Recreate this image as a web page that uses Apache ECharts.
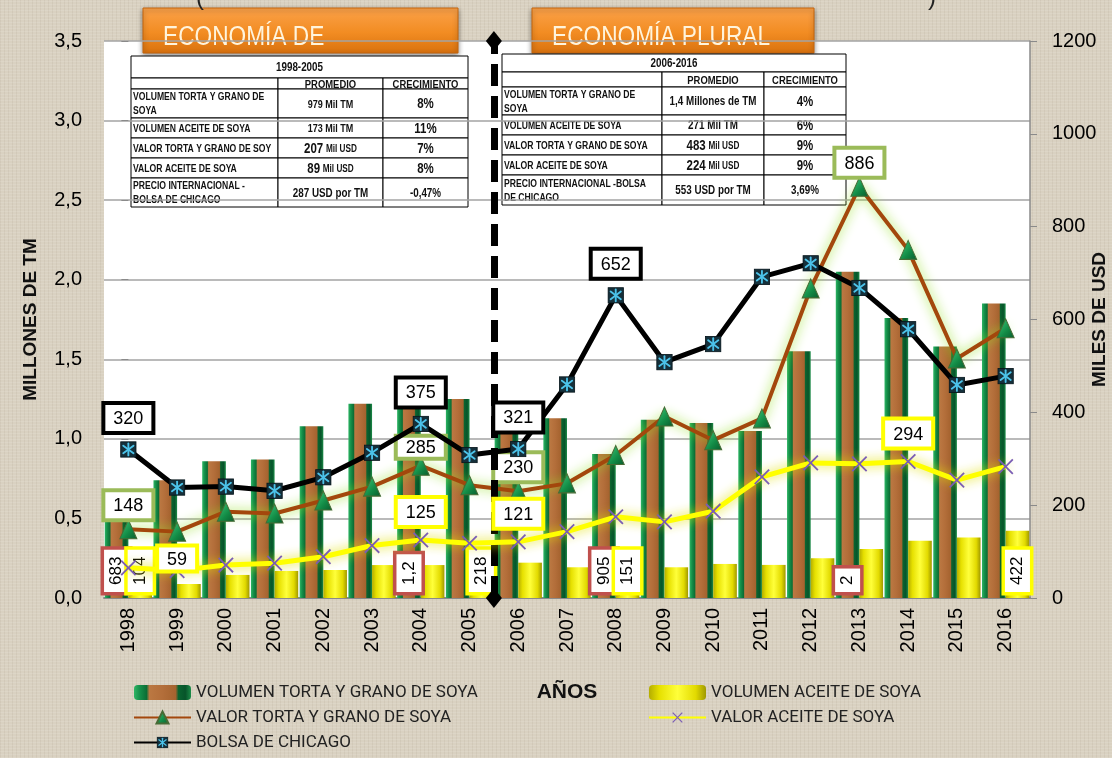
<!DOCTYPE html>
<html>
<head>
<meta charset="utf-8">
<script src="https://cdn.jsdelivr.net/npm/echarts/dist/echarts.min.js"></script>
<style>
  html, body { margin: 0; padding: 0; }
  body {
    background-color: #d9d1c1;
    background-image:
      repeating-linear-gradient(0deg, rgba(255,255,255,0.10) 0 1px, transparent 1px 3px),
      repeating-linear-gradient(90deg, rgba(90,70,40,0.06) 0 1px, transparent 1px 4px);
  }
  #chart { width: 1112px; height: 758px; }
</style>
</head>
<body>
<div id="chart"></div>
<script>
// datos por año
const years = ['1998', '1999', '2000', '2001', '2002', '2003', '2004', '2005', '2006', '2007',
  '2008', '2009', '2010', '2011', '2012', '2013', '2014', '2015', '2016']

// millones de TM (eje izquierdo)
const volTorta = [0.683, 0.74, 0.86, 0.87, 1.08, 1.22, 1.23, 1.25, 1.15, 1.13,
  0.905, 1.12, 1.10, 1.05, 1.55, 2.05, 1.76, 1.58, 1.85]
const volAceite = [0.104, 0.088, 0.145, 0.17, 0.176, 0.207, 0.207, 0.218, 0.222, 0.193,
  0.151, 0.193, 0.214, 0.208, 0.25, 0.308, 0.36, 0.38, 0.422]

// miles de USD (eje derecho)
const valorTorta = [148, 143, 186, 182, 210, 240, 285, 243, 230, 247,
  308, 391, 340, 387, 667, 886, 750, 516, 581]
const valorAceite = [65, 59, 71, 75, 89, 113, 125, 118, 121, 143,
  175, 164, 187, 261, 291, 289, 294, 254, 283]
const bolsa = [320, 238, 240, 231, 260, 313, 375, 308, 321, 460,
  652, 508, 547, 692, 721, 668, 579, 459, 478]

// etiquetas visibles
const volTortaLabels = ['683', '', '', '', '', '', '1,2', '', '', '', '905', '', '', '', '', '2', '', '', '']
const volAceiteLabels = ['104', '', '', '', '', '', '', '218', '', '', '151', '', '', '', '', '', '', '', '422']
const valorTortaLabels = ['148', '', '', '', '', '', '285', '', '230', '', '', '', '', '', '', '886', '', '', '']
const valorAceiteLabels = ['', '59', '', '', '', '', '125', '', '121', '', '', '', '', '', '', '', '294', '', '']
const bolsaLabels = ['320', '', '', '', '', '', '375', '', '321', '', '652', '', '', '', '', '', '', '', '']

const leftTicks = { min: 0, max: 3.5, interval: 0.5 }
const rightTicks = { min: 0, max: 1200, interval: 200 }
const splitAt = 7.5 // entre 2005 y 2006

// tablas
const table1Title = '1998-2005'
const table1Labels = ['VOLUMEN TORTA Y GRANO DE\nSOYA', 'VOLUMEN ACEITE DE SOYA', 'VALOR TORTA Y GRANO DE SOY', 'VALOR ACEITE DE SOYA', 'PRECIO INTERNACIONAL -\nBOLSA DE CHICAGO']
const table1Prom = ['{m|979 Mil TM}', '{m|173 Mil TM}', '{b|207} {s|Mil USD}', '{b|89} {s|Mil USD}', '{n|287 USD por TM}']
const table1Crec = ['{p|8%}', '{p|11%}', '{p|7%}', '{p|8%}', '{q|-0,47%}']

const table2Title = '2006-2016'
const table2Labels = ['VOLUMEN TORTA Y GRANO DE\nSOYA', 'VOLUMEN ACEITE DE SOYA', 'VALOR TORTA Y GRANO DE SOYA', 'VALOR ACEITE DE SOYA', 'PRECIO INTERNACIONAL -BOLSA\nDE CHICAGO']
const table2Prom = ['{n|1,4 Millones de TM}', '{n|271 Mil TM}', '{b|483} {s|Mil USD}', '{b|224} {s|Mil USD}', '{n|553 USD por TM}']
const table2Crec = ['{p|4%}', '{p|6%}', '{p|9%}', '{p|9%}', '{q|3,69%}']

const SANS = "'Liberation Sans', 'DejaVu Sans', sans-serif"
const LEG = "Roboto, 'Liberation Sans', sans-serif"
const NARROW_X = 0.82 // estrechar texto para parecerse a Calibri

const svg = s => 'image://data:image/svg+xml;charset=utf-8,' + encodeURIComponent(s)
const bolsaSymbol = svg('<svg xmlns="http://www.w3.org/2000/svg" width="20" height="20"><rect x="1" y="1" width="18" height="18" fill="#15303b" stroke="#08161c"/><g stroke="#4cc3ea" stroke-width="2.2" stroke-linecap="round"><line x1="10" y1="3" x2="10" y2="17"/><line x1="4" y1="5.5" x2="16" y2="14.5"/><line x1="4" y1="14.5" x2="16" y2="5.5"/></g></svg>')
const crossSymbol = svg('<svg xmlns="http://www.w3.org/2000/svg" width="20" height="20"><g stroke="#7a5db4" stroke-width="2"><line x1="2" y1="2" x2="18" y2="18"/><line x1="18" y1="2" x2="2" y2="18"/></g></svg>')

const greenBar = {
  type: 'linear', x: 0, y: 0, x2: 1, y2: 0,
  colorStops: [
    { offset: 0, color: '#2fb565' }, { offset: 0.1, color: '#15904a' },
    { offset: 0.22, color: '#0c6e35' }, { offset: 0.27, color: '#bb7842' },
    { offset: 0.5, color: '#b36e3a' }, { offset: 0.73, color: '#a5632f' },
    { offset: 0.78, color: '#0a6430' }, { offset: 0.9, color: '#07542a' },
    { offset: 1, color: '#1c8c48' }
  ]
}
const yellowBar = {
  type: 'linear', x: 0, y: 0, x2: 1, y2: 0,
  colorStops: [
    { offset: 0, color: '#b5ad00' }, { offset: 0.18, color: '#e6e000' },
    { offset: 0.5, color: '#ffff3a' }, { offset: 0.82, color: '#e2da00' },
    { offset: 1, color: '#9f9800' }
  ]
}
const greenTri = {
  type: 'linear', x: 0, y: 0, x2: 1, y2: 1,
  colorStops: [{ offset: 0, color: '#3fcf7c' }, { offset: 0.6, color: '#128a45' }, { offset: 1, color: '#0a5a2c' }]
}
const orange = {
  type: 'linear', x: 0, y: 0, x2: 0, y2: 1,
  colorStops: [{ offset: 0, color: '#fba24a' }, { offset: 0.55, color: '#f28c22' }, { offset: 1, color: '#d8710e' }]
}

function barLabel(texts, border) {
  return {
    show: false,
    position: 'insideBottom',
    distance: 6,
    rotate: 90,
    align: 'left',
    verticalAlign: 'middle',
    formatter: p => texts[p.dataIndex],
    backgroundColor: '#fff',
    borderColor: border,
    borderWidth: 3.5,
    padding: [5, 7, 3, 7],
    fontSize: 17,
    fontFamily: SANS,
    color: '#000'
  }
}

function lineLabel(texts, border, distance) {
  return {
    show: false,
    position: 'top',
    distance,
    formatter: p => texts[p.dataIndex],
    backgroundColor: '#fff',
    borderColor: border,
    borderWidth: 4,
    padding: [5, 8, 3, 8],
    fontSize: 18,
    fontFamily: SANS,
    color: '#000'
  }
}

// tweaks: ajustes de la etiqueta de algún punto concreto
const withLabels = (values, texts, tweaks = {}) => values.map((v, i) => ({
  value: v,
  label: Object.assign({ show: texts[i] !== '' }, tweaks[i] || {})
}))

function cell(x, y, w, h) {
  return { type: 'rect', shape: { x, y, width: w, height: h }, style: { fill: '#fff', stroke: '#000', lineWidth: 1 } }
}
function txt(text, x, y, align, style) {
  return {
    type: 'text', x, y, scaleX: NARROW_X,
    style: Object.assign({ text, align, verticalAlign: 'middle', fill: '#111', fontFamily: SANS, fontWeight: 'bold' }, style)
  }
}

const richCell = {
  m: { fontSize: 11, fontWeight: 'bold', fontFamily: SANS },
  n: { fontSize: 12, fontWeight: 'bold', fontFamily: SANS },
  b: { fontSize: 14, fontWeight: 'bold', fontFamily: SANS },
  s: { fontSize: 10, fontWeight: 'bold', fontFamily: SANS },
  p: { fontSize: 14, fontWeight: 'bold', fontFamily: SANS },
  q: { fontSize: 12, fontWeight: 'bold', fontFamily: SANS }
}

function table(cols, rows, title, labels, prom, crec) {
  const children = []
  children.push(cell(cols[0], rows[0], cols[3] - cols[0], rows[1] - rows[0]))
  children.push(txt(title, (cols[0] + cols[3]) / 2, (rows[0] + rows[1]) / 2 + 1, 'center', { fontSize: 12 }))
  for (let r = 1; r < rows.length - 1; r++) {
    for (let c = 0; c < 3; c++) {
      children.push(cell(cols[c], rows[r], cols[c + 1] - cols[c], rows[r + 1] - rows[r]))
    }
  }
  const hy = (rows[1] + rows[2]) / 2 + 1
  children.push(txt('PROMEDIO', (cols[1] + cols[2]) / 2, hy, 'center', { fontSize: 11.5 }))
  children.push(txt('CRECIMIENTO', (cols[2] + cols[3]) / 2, hy, 'center', { fontSize: 11.5 }))
  for (let i = 0; i < labels.length; i++) {
    const cy = (rows[i + 2] + rows[i + 3]) / 2 + 1
    children.push(txt(labels[i], cols[0] + 2, cy, 'left', { fontSize: 10.5, lineHeight: 14 }))
    children.push(txt(prom[i], (cols[1] + cols[2]) / 2, cy, 'center', { rich: richCell }))
    children.push(txt(crec[i], (cols[2] + cols[3]) / 2, cy, 'center', { rich: richCell }))
  }
  return { type: 'group', z: 100, children }
}

function titleBox(x, w, text) {
  return {
    type: 'group', z: 90,
    children: [
      { type: 'rect', shape: { x, y: 8, width: w, height: 45 },
        style: { fill: orange, stroke: '#c4650c', lineWidth: 1, shadowBlur: 5, shadowOffsetY: 2, shadowColor: 'rgba(0,0,0,0.45)' } },
      { type: 'text', x: x + 20, y: 38, scaleX: 0.84,
        style: { text, fill: '#fff4dc', fontSize: 27, fontFamily: SANS, verticalAlign: 'middle' } }
    ]
  }
}

const chart = echarts.init(document.getElementById('chart'))

chart.setOption({
  animation: false,
  backgroundColor: 'transparent',
  textStyle: { fontFamily: SANS },
  grid: {
    left: 104, right: 82, top: 41, bottom: 160,
    outerBoundsMode: 'none', containLabel: false,
    show: true, backgroundColor: '#fff', borderWidth: 0
  },
  legend: [
    {
      left: 133, top: 684, orient: 'vertical', padding: 0, height: 80,
      itemWidth: 57, itemHeight: 15, itemGap: 8,
      selectedMode: false,
      textStyle: { fontSize: 17, color: '#222', fontFamily: LEG },
      data: ['VOLUMEN TORTA Y GRANO DE SOYA', 'VALOR TORTA Y GRANO DE SOYA', 'BOLSA DE CHICAGO']
    },
    {
      left: 648, top: 684, orient: 'vertical', padding: 0, height: 80,
      itemWidth: 57, itemHeight: 15, itemGap: 8,
      selectedMode: false,
      textStyle: { fontSize: 17, color: '#222', fontFamily: LEG },
      data: ['VOLUMEN ACEITE DE SOYA', 'VALOR ACEITE DE SOYA']
    }
  ],
  xAxis: [
    {
      type: 'category',
      data: years,
      name: 'AÑOS',
      nameLocation: 'middle',
      nameGap: 84,
      nameTextStyle: { fontSize: 21, fontWeight: 'bold', color: '#111', fontFamily: SANS },
      axisLabel: { rotate: 90, fontSize: 20, color: '#000', margin: 10 },
      axisTick: { show: false },
      axisLine: { lineStyle: { color: '#8a8a8a', width: 2 } }
    },
    { type: 'value', min: -0.5, max: years.length - 0.5, show: false }
  ],
  yAxis: [
    {
      type: 'value',
      min: leftTicks.min, max: leftTicks.max, interval: leftTicks.interval,
      name: 'MILLONES DE TM',
      nameLocation: 'middle',
      nameGap: 64,
      nameTextStyle: { fontSize: 19, fontWeight: 'bold', color: '#111' },
      axisLabel: { fontSize: 20, color: '#000', margin: 22, formatter: v => v.toFixed(1).replace('.', ',') },
      axisTick: { show: true, length: 7, lineStyle: { color: '#8a8a8a' } },
      axisLine: { show: false },
      splitLine: { lineStyle: { color: '#a3a3a3', width: 1.5 } }
    },
    {
      type: 'value',
      position: 'right',
      min: rightTicks.min, max: rightTicks.max, interval: rightTicks.interval,
      name: 'MILES DE USD',
      nameLocation: 'middle',
      nameRotate: 90,
      nameGap: 60,
      nameMoveOverlap: false,
      nameTextStyle: { fontSize: 19, fontWeight: 'bold', color: '#111' },
      axisLabel: { fontSize: 20, color: '#000', margin: 22, formatter: v => String(v) },
      axisTick: { show: true, length: 7, lineStyle: { color: '#8a8a8a' } },
      axisLine: { show: true, lineStyle: { color: '#8a8a8a', width: 1.5 } },
      splitLine: { show: false }
    }
  ],
  series: [
    {
      name: 'VOLUMEN TORTA Y GRANO DE SOYA',
      type: 'bar',
      yAxisIndex: 0,
      barGap: '0%',
      barCategoryGap: '3%',
      z: 2,
      itemStyle: { color: greenBar },
      label: barLabel(volTortaLabels, '#c0504d'),
      data: withLabels(volTorta, volTortaLabels)
    },
    {
      name: 'VOLUMEN ACEITE DE SOYA',
      type: 'bar',
      yAxisIndex: 0,
      z: 2,
      itemStyle: { color: yellowBar },
      label: barLabel(volAceiteLabels, '#ffff00'),
      data: withLabels(volAceite, volAceiteLabels)
    },
    {
      name: 'divisor',
      type: 'line',
      xAxisIndex: 1,
      yAxisIndex: 0,
      data: [[splitAt, 0]],
      symbol: 'none',
      lineStyle: { width: 0 },
      z: 3,
      silent: true,
      markLine: {
        silent: true,
        symbol: ['diamond', 'diamond'],
        symbolSize: [16, 20],
        label: { show: false },
        lineStyle: { color: '#000', width: 7, type: [22, 10], opacity: 1 },
        data: [[{ coord: [splitAt, leftTicks.min] }, { coord: [splitAt, leftTicks.max] }]]
      }
    },
    {
      name: 'VALOR TORTA Y GRANO DE SOYA',
      type: 'line',
      yAxisIndex: 1,
      z: 4,
      symbol: 'triangle',
      symbolSize: [17, 19],
      lineStyle: { color: '#a3470c', width: 4, shadowColor: 'rgba(150,225,40,0.95)', shadowBlur: 12 },
      itemStyle: { color: greenTri, borderColor: '#476b35', borderWidth: 1 },
      label: lineLabel(valorTortaLabels, '#9bbb59', 1),
      data: withLabels(valorTorta, valorTortaLabels, { 6: { padding: [1, 8, 0, 8], distance: -1 } })
    },
    {
      name: 'VALOR ACEITE DE SOYA',
      type: 'line',
      yAxisIndex: 1,
      z: 5,
      symbol: crossSymbol,
      symbolSize: 18,
      lineStyle: { color: '#ffff00', width: 5, shadowColor: 'rgba(225,225,0,0.95)', shadowBlur: 12 },
      itemStyle: { color: '#ffff00' },
      label: lineLabel(valorAceiteLabels, '#ffff00', 6),
      data: withLabels(valorAceite, valorAceiteLabels, { 1: { distance: -8, padding: [3, 8, 1, 8] } })
    },
    {
      name: 'BOLSA DE CHICAGO',
      type: 'line',
      yAxisIndex: 1,
      z: 6,
      symbol: bolsaSymbol,
      symbolSize: 17,
      lineStyle: { color: '#000', width: 5 },
      itemStyle: { color: '#000' },
      label: lineLabel(bolsaLabels, '#000', 10),
      data: withLabels(bolsa, bolsaLabels)
    }
  ],
  graphic: [
    { type: 'text', x: 196, y: -14, z: 90, style: { text: '(', fontSize: 24, fill: '#222', fontFamily: SANS } },
    { type: 'text', x: 928, y: -14, z: 90, style: { text: ')', fontSize: 24, fill: '#222', fontFamily: SANS } },
    titleBox(143, 315, 'ECONOMÍA DE'),
    titleBox(532, 282, 'ECONOMÍA PLURAL'),
    table([131, 278, 383, 468], [56, 78, 89, 118, 138, 158, 178, 207], table1Title, table1Labels, table1Prom, table1Crec),
    table([502, 662, 764, 846], [54, 72, 87, 115, 135, 155, 175, 205], table2Title, table2Labels, table2Prom, table2Crec)
  ]
})
</script>
</body>
</html>
